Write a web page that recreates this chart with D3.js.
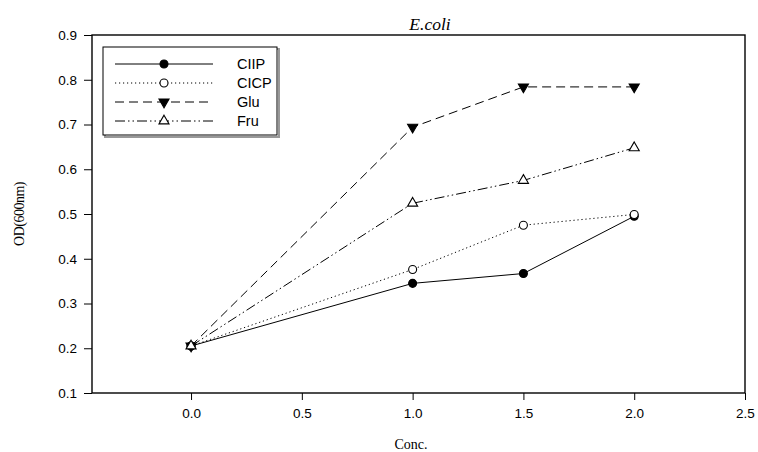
<!DOCTYPE html>
<html>
<head>
<meta charset="utf-8">
<script src="https://cdn.jsdelivr.net/npm/d3@7"></script>
<style>
  body { margin: 0; background: #fff; }
  .axis text { font-family: "Liberation Sans", Arial, sans-serif; font-size: 13.5px; fill: #000; }
  .axis line { stroke: #000; }
</style>
</head>
<body>
<script>
// data
var conc = [0, 1.0, 1.5, 2.0];
var ciip = [0.205, 0.345, 0.367, 0.495];
var cicp = [0.205, 0.376, 0.475, 0.499];
var glu  = [0.205, 0.694, 0.784, 0.784];
var fru  = [0.205, 0.524, 0.575, 0.648];
var xTicks = [0, 0.5, 1.0, 1.5, 2.0, 2.5];
var yTicks = [0.1, 0.2, 0.3, 0.4, 0.5, 0.6, 0.7, 0.8, 0.9];
var seriesNames = ["CIIP", "CICP", "Glu", "Fru"];

var series = [
  {name: seriesNames[0], values: ciip, dash: null,               symbol: d3.symbolCircle,   fill: "#000", rot: 0},
  {name: seriesNames[1], values: cicp, dash: "1.2,2.8",          symbol: d3.symbolCircle,   fill: "#fff", rot: 0},
  {name: seriesNames[2], values: glu,  dash: "9,5",              symbol: d3.symbolTriangle, fill: "#000", rot: 180},
  {name: seriesNames[3], values: fru,  dash: "10,3,1.5,3,1.5,3", symbol: d3.symbolTriangle, fill: "#fff", rot: 0}
];

var W = 758, H = 452;
var margin = {top: 35, right: 13, bottom: 59, left: 92},
    width = W - margin.left - margin.right,
    height = H - margin.top - margin.bottom;

var svg = d3.select("body").append("svg")
    .attr("width", W)
    .attr("height", H);

var g = svg.append("g")
    .attr("transform", "translate(" + margin.left + "," + margin.top + ")");

var x = d3.scaleLinear().domain([-0.447, 2.5]).range([0, width]);
var y = d3.scaleLinear().domain([0.1, 0.9]).range([height, 0]);

// axes
var xAxis = d3.axisBottom(x).tickValues(xTicks).tickFormat(d3.format(".1f"))
    .tickSize(7).tickSizeOuter(0).tickPadding(8);
var yAxis = d3.axisLeft(y).tickValues(yTicks).tickFormat(d3.format(".1f"))
    .tickSize(8).tickSizeOuter(0).tickPadding(7);

g.append("g").attr("class", "x axis")
    .attr("transform", "translate(0," + height + ")")
    .call(xAxis)
    .select(".domain").remove();

g.append("g").attr("class", "y axis")
    .call(yAxis)
    .select(".domain").remove();

// frame
g.append("rect")
    .attr("x", 0).attr("y", 0)
    .attr("width", width).attr("height", height)
    .attr("fill", "none").attr("stroke", "#000").attr("stroke-width", 1.4);

// lines and markers
var line = d3.line()
    .x(function(d, i) { return x(conc[i]); })
    .y(function(d) { return y(d); });

series.forEach(function(s) {
  g.append("path")
      .datum(s.values)
      .attr("d", line)
      .attr("fill", "none")
      .attr("stroke", "#000")
      .attr("stroke-width", 1)
      .attr("stroke-dasharray", s.dash);
});

function symSize(s) { return s.symbol === d3.symbolCircle ? 50 : 44; }

series.forEach(function(s) {
  g.selectAll(null)
      .data(s.values)
      .enter().append("path")
      .attr("d", d3.symbol().type(s.symbol).size(symSize(s)))
      .attr("transform", function(d, i) {
        return "translate(" + x(conc[i]) + "," + y(d) + ") rotate(" + s.rot + ")";
      })
      .attr("fill", s.fill)
      .attr("stroke", "#000")
      .attr("stroke-width", 1.1);
});

// legend
var legend = svg.append("g").attr("transform", "translate(103,47)");
legend.append("rect")
    .attr("x", 2).attr("y", 2).attr("width", 174).attr("height", 88)
    .attr("fill", "none").attr("stroke", "#999").attr("stroke-width", 2);
legend.append("rect")
    .attr("x", 0).attr("y", 0).attr("width", 174).attr("height", 88)
    .attr("fill", "#fff").attr("stroke", "#000").attr("stroke-width", 1);

series.forEach(function(s, i) {
  var ly = 17 + i * 19;
  legend.append("line")
      .attr("x1", 12).attr("x2", 110)
      .attr("y1", ly).attr("y2", ly)
      .attr("stroke", "#000").attr("stroke-width", 1)
      .attr("stroke-dasharray", s.dash);
  legend.append("path")
      .attr("d", d3.symbol().type(s.symbol).size(symSize(s)))
      .attr("transform", "translate(61," + ly + ") rotate(" + s.rot + ")")
      .attr("fill", s.fill).attr("stroke", "#000").attr("stroke-width", 1.1);
  legend.append("text")
      .attr("x", 134).attr("y", ly)
      .attr("dy", "0.36em")
      .style("font-family", "'Liberation Sans', Arial, sans-serif")
      .style("font-size", "14.5px")
      .text(s.name);
});

// title and axis labels
svg.append("text")
    .attr("x", 430).attr("y", 30)
    .attr("text-anchor", "middle")
    .style("font-family", "'Liberation Serif', 'Times New Roman', serif")
    .style("font-style", "italic")
    .style("font-size", "17.5px")
    .text("E.coli");

svg.append("text")
    .attr("x", 411).attr("y", 449)
    .attr("text-anchor", "middle")
    .style("font-family", "'Liberation Serif', 'Times New Roman', serif")
    .style("font-size", "14px")
    .text("Conc.");

svg.append("text")
    .attr("transform", "translate(24,214) rotate(-90)")
    .attr("text-anchor", "middle")
    .style("font-family", "'Liberation Serif', 'Times New Roman', serif")
    .style("font-size", "14px")
    .style("letter-spacing", "-0.5px")
    .text("OD(600nm)");
</script>
</body>
</html>
